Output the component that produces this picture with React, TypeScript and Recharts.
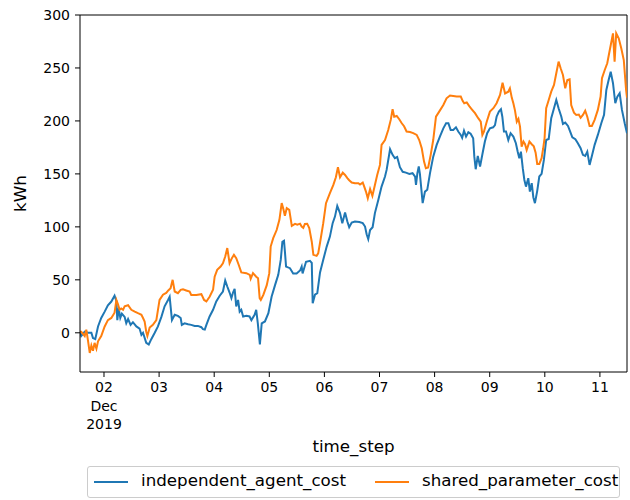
import React from 'react';
import { LineChart, Line, XAxis, YAxis, ReferenceLine } from 'recharts';

// time in hours relative to 2019-12-02 00:00, value in kWh
const independentAgentCost: [number, number][] = [
  [-10.45, 1], [-9.9, -3], [-8.4, 1], [-7.0, 0], [-5.5, 0], [-4.8, -5], [-3.8, -6], [-2.6, 6], [-1.2, 14],
  [0.3, 20], [1.7, 26], [3.2, 29.5], [4.6, 35], [5.4, 30], [5.8, 12], [6.4, 23], [7.1, 14], [7.8, 18],
  [9.0, 15], [9.7, 9], [10.5, 13], [11.6, 7.5], [12.6, 10], [14.1, 6], [15.5, 4], [16.3, -2], [17.0, 0],
  [18.4, -9.5], [19.5, -11], [20.6, -6], [22.1, 0], [23.5, 6], [25.0, 15], [26.4, 25], [27.9, 31],
  [28.6, 34], [29.6, 12], [30.8, 17], [32.2, 16], [33.4, 14], [33.9, 7.5], [35.1, 9], [36.6, 8],
  [38.0, 7.5], [39.5, 6.5], [40.9, 6.5], [42.4, 5.3], [43.1, 3.5], [43.9, 3], [44.6, 7.5], [46.0, 15.4],
  [47.5, 21.7], [48.9, 29.6], [50.4, 35], [51.8, 39], [52.8, 49.4], [53.7, 43.7], [54.7, 38], [55.5, 32.7],
  [56.2, 38], [56.9, 41.5], [57.6, 24.8], [58.4, 31], [59.1, 20], [59.8, 21.7], [60.6, 15.4], [62.0, 16],
  [63.4, 15.4], [64.2, 12], [65.6, 17], [66.3, 21.7], [67.0, 9], [67.9, -11], [68.7, 9], [70.1, 10.7],
  [71.6, 18.6], [73.0, 34], [74.5, 45], [75.9, 54.7], [77.0, 69], [77.7, 86], [78.4, 87], [78.8, 76.7],
  [79.3, 62.5], [81.0, 61], [82.4, 56], [83.9, 56], [85.4, 58.8], [86.1, 62.5], [86.5, 56], [88.0, 67],
  [89.7, 68], [90.5, 66], [90.9, 28], [91.9, 36], [92.9, 37.4], [94.1, 57], [95.5, 69], [97.0, 81.4],
  [98.4, 90.8], [99.6, 103.5], [100.6, 109.7], [101.6, 119.8], [102.8, 113], [103.8, 103.5], [105.0, 113.5],
  [106.0, 105], [106.8, 99.7], [107.9, 104], [109.3, 105], [111.2, 104.5], [112.7, 103.5], [113.7, 100.3],
  [114.4, 93], [115.1, 88.4], [115.9, 97], [117.0, 99.7], [118.0, 113], [119.5, 125.5], [120.9, 138],
  [122.4, 147.5], [123.1, 153.8], [124.6, 173.3], [125.7, 168], [126.7, 164.8], [127.7, 166], [128.9, 156.3],
  [130.1, 152], [131.5, 151.2], [133.0, 150], [134.4, 150.7], [135.5, 147.5], [135.9, 139.6], [136.5, 150.7],
  [137.1, 157], [137.6, 150], [138.8, 122.4], [139.8, 133.3], [140.8, 135], [142.0, 150.7], [143.4, 166.3],
  [144.9, 177.4], [146.3, 185.2], [147.8, 193], [149.0, 197.8], [150.0, 197.8], [151.0, 191.5],
  [152.1, 191.5], [153.3, 194], [154.3, 190], [155.4, 186.8], [156.0, 184], [156.8, 190.8], [157.7, 185.2],
  [158.7, 189.3], [159.7, 188], [160.8, 183.7], [161.3, 166.3], [161.9, 154.4], [162.8, 167], [163.8, 157],
  [164.9, 169.5], [165.9, 180.5], [166.9, 188.4], [168.1, 193], [169.5, 194], [170.3, 196], [171.0, 204],
  [172.0, 208.8], [172.9, 211], [173.5, 204], [174.2, 190], [175.1, 190], [176.1, 182], [177.1, 188.4],
  [178.3, 185.2], [179.4, 179], [180.2, 171], [180.9, 164.8], [181.6, 171], [182.4, 155.4], [183.1, 144.3],
  [183.8, 138], [184.8, 146], [185.5, 133.3], [186.3, 141.2], [187.0, 128], [187.7, 122.4], [188.7, 134],
  [189.6, 147.5], [190.6, 150], [191.6, 163.2], [192.6, 182], [193.7, 183], [194.8, 202.6], [196.0, 212],
  [197.0, 219.8], [198.0, 212], [199.2, 204], [199.9, 197.2], [200.9, 198.5], [202.1, 195.3], [203.3, 188.4],
  [204.0, 184.6], [205.3, 182.7], [206.4, 179], [207.6, 174.2], [208.6, 168], [209.6, 167], [210.5, 171],
  [211.5, 158.5], [212.5, 167], [213.7, 177.4], [215.1, 186.8], [216.6, 197.8], [217.8, 205.7],
  [218.8, 229.2], [219.8, 238.7], [220.7, 246.5], [221.7, 235.6], [222.7, 216.7], [223.6, 223],
  [224.6, 226.1], [225.6, 210.4], [226.8, 197.8], [227.8, 188.4],
];

const sharedParameterCost: [number, number][] = [
  [-10.45, 1], [-9.9, 1], [-8.4, -3], [-7.7, 3], [-7.0, -7], [-6.2, -19], [-5.5, -12], [-4.8, -17],
  [-4.1, -9.5], [-3.3, -15], [-2.6, -8], [-1.2, -3], [0.3, 6], [1.7, 12], [3.2, 14], [4.6, 19], [5.4, 31],
  [6.1, 27], [6.8, 21.7], [7.5, 23], [8.3, 21.7], [9.0, 25], [10.5, 26], [11.9, 21.7], [13.4, 20],
  [14.8, 18.5], [16.3, 17], [17.0, 14], [17.7, 10.7], [18.4, 1], [18.9, -3], [19.9, 5], [21.3, 7.5],
  [22.8, 12], [24.2, 31], [25.7, 36], [27.1, 37.7], [28.0, 40], [29.0, 42], [29.9, 50], [30.8, 39],
  [32.2, 37.4], [33.4, 40.6], [34.4, 41], [35.8, 40], [37.3, 39], [38.0, 35.8], [40.2, 35.8], [42.4, 36.5],
  [43.6, 31], [44.6, 29.6], [46.0, 34], [47.5, 40.6], [48.2, 53], [49.3, 59.4], [50.8, 62.5], [51.8, 65.7],
  [52.8, 72], [53.7, 80], [54.7, 65.7], [55.7, 70.5], [56.6, 73.6], [57.6, 70.5], [58.7, 64], [59.8, 57],
  [62.0, 56.3], [63.5, 54.7], [63.9, 51], [64.9, 56.3], [66.3, 53], [67.1, 51.6], [67.8, 32.7], [68.3, 31],
  [69.4, 35.8], [70.9, 45], [72.0, 56.3], [72.6, 81.4], [73.7, 89.3], [75.2, 97], [76.4, 106.6],
  [77.4, 122.4], [78.1, 117], [78.8, 110.4], [79.6, 117.6], [80.7, 116], [81.8, 101], [83.2, 102.8],
  [84.2, 102], [85.4, 103], [86.1, 100.3], [86.8, 99], [87.5, 102.8], [88.5, 103], [89.4, 98.8], [90.5, 86],
  [91.2, 73.6], [92.6, 72.6], [93.3, 75], [94.1, 85], [95.5, 103.5], [96.7, 122.4], [98.4, 131.8],
  [99.9, 139.6], [101.0, 146.9], [101.9, 156.3], [102.8, 146.9], [104.0, 151.2], [105.0, 149], [106.0, 146],
  [106.8, 144], [107.9, 141.8], [109.3, 141.2], [110.8, 141.2], [111.5, 140], [112.7, 141.8], [113.2, 139],
  [114.1, 133.3], [114.9, 127], [115.9, 135.6], [116.9, 129.2], [118.0, 139.6], [119.0, 149], [120.2, 158.5],
  [120.9, 177.4], [122.4, 182], [123.8, 191.5], [124.9, 201], [125.7, 211], [126.4, 204], [127.5, 204.7],
  [128.6, 201.6], [129.7, 197.8], [130.7, 195], [131.8, 190], [133.3, 189.5], [134.7, 188.5], [136.2, 186.8],
  [137.3, 182], [138.4, 174.2], [139.4, 161.6], [140.2, 155.4], [141.2, 156], [142.3, 168], [143.4, 182],
  [144.6, 204], [146.0, 208.8], [147.8, 215], [149.2, 221.4], [150.7, 224], [152.1, 223.5], [153.6, 223],
  [155.4, 223], [156.2, 219], [156.9, 216.7], [158.0, 217.5], [159.1, 214], [160.2, 211], [161.6, 207.3],
  [163.0, 202.6], [164.1, 199.3], [164.8, 186.8], [165.5, 190], [166.7, 199.3], [168.1, 208.8], [169.6, 212],
  [171.0, 216.7], [172.5, 224.5], [173.6, 236], [174.7, 226], [176.1, 227.6], [176.8, 230.8], [177.6, 222],
  [178.3, 216.7], [179.0, 210], [179.8, 199.3], [180.5, 202], [181.2, 194.6], [181.9, 175.8], [182.7, 180.5],
  [183.4, 178], [184.1, 172.6], [185.3, 180.5], [186.3, 178], [187.2, 176], [188.0, 170], [188.7, 159.4],
  [189.6, 159.4], [190.6, 164.8], [191.3, 174.2], [191.9, 183.7], [192.6, 212], [193.7, 219.8],
  [194.8, 227.6], [196.0, 234], [197.0, 245], [198.0, 256], [198.9, 249.7], [199.9, 243.4], [200.9, 230.8],
  [201.8, 238.7], [202.8, 239.3], [203.5, 215], [204.7, 207.8], [205.7, 205.7], [206.8, 206], [207.6, 203],
  [208.6, 205.7], [209.6, 209.7], [210.5, 204], [211.5, 195.3], [212.5, 195.3], [213.7, 201], [215.1, 210.4],
  [216.3, 223], [216.9, 240.3], [218.1, 248.1], [219.2, 254.4], [220.3, 267], [221.3, 278], [221.7, 282.7],
  [222.4, 256], [223.1, 282.7], [224.2, 278], [225.3, 268.6], [226.4, 257.5], [227.4, 229.2], [227.8, 222],
];

const xTicks = [0, 24, 48, 72, 96, 120, 144, 168, 192, 216];
const dayLabels = ['02', '03', '04', '05', '06', '07', '08', '09', '10', '11'];
const yTicks = [0, 50, 100, 150, 200, 250, 300];

const X_MIN = -10.45;
const X_MAX = 227.8;
const Y_MIN = -37;
const Y_MAX = 300;

const BLUE = '#1f77b4';
const ORANGE = '#ff7f0e';
const FONT = 'DejaVu Sans';
const LABEL_SIZE = 16.7;

const independentData = independentAgentCost.map(([t, v]) => ({ t, v }));
const sharedData = sharedParameterCost.map(([t, v]) => ({ t, v }));

const XTick = (props: any) => {
  const { x, y, payload } = props;
  const idx = xTicks.indexOf(payload.value);
  const label = idx >= 0 ? dayLabels[idx] : '';
  return (
    <g>
      <text x={x} y={y + 11} textAnchor="middle" fontFamily={FONT} fontSize={14} fill="#000">{label}</text>
      {idx === 0 && <text x={x} y={y + 30} textAnchor="middle" fontFamily={FONT} fontSize={14} fill="#000">Dec</text>}
      {idx === 0 && <text x={x} y={y + 48} textAnchor="middle" fontFamily={FONT} fontSize={14} fill="#000">2019</text>}
    </g>
  );
};

const LegendBox = () => (
  <div
    style={{
      position: 'absolute',
      left: 87,
      top: 466,
      boxSizing: 'border-box',
      width: 533,
      height: 32,
      border: '1px solid #cccccc',
      borderRadius: 3,
      background: '#fff',
      fontFamily: FONT,
      fontSize: LABEL_SIZE,
      color: '#000',
      whiteSpace: 'nowrap',
    }}
  >
    <span style={{ position: 'absolute', left: 6, top: 14, width: 34, height: 2, background: BLUE }} />
    <span style={{ position: 'absolute', left: 53, top: 3 }}>independent_agent_cost</span>
    <span style={{ position: 'absolute', left: 287, top: 14, width: 34, height: 2, background: ORANGE }} />
    <span style={{ position: 'absolute', left: 334, top: 3 }}>shared_parameter_cost</span>
  </div>
);

export default function App() {
  return (
    <div style={{ position: 'absolute', left: 0, top: 0, width: 630, height: 500, background: '#fff' }}>
      <LineChart width={630} height={500} margin={{ top: 15, right: 3, left: 0, bottom: 48 }}>
        <XAxis
          dataKey="t"
          type="number"
          domain={[X_MIN, X_MAX]}
          allowDataOverflow
          ticks={xTicks}
          interval={0}
          tick={<XTick />}
          tickSize={5}
          tickMargin={4}
          height={80}
          stroke="#000"
          tickLine={{ stroke: '#000' }}
          axisLine={{ stroke: '#000' }}
          label={{ value: 'time_step', position: 'insideBottom', offset: 0, fontFamily: FONT, fontSize: LABEL_SIZE, fill: '#000' }}
        />
        <YAxis
          type="number"
          domain={[Y_MIN, Y_MAX]}
          allowDataOverflow
          ticks={yTicks}
          interval={0}
          width={80}
          tickSize={5}
          tickMargin={5}
          stroke="#000"
          tick={{ fontFamily: FONT, fontSize: 14, fill: '#000' }}
          label={{ value: 'kWh', angle: -90, position: 'insideLeft', offset: 20, fontFamily: FONT, fontSize: LABEL_SIZE, fill: '#000', style: { textAnchor: 'middle' } }}
        />
        <ReferenceLine y={Y_MAX} stroke="#000" strokeWidth={1} />
        <ReferenceLine x={X_MAX} stroke="#000" strokeWidth={1} />
        <Line data={independentData} dataKey="v" name="independent_agent_cost" stroke={BLUE} strokeWidth={2} dot={false} isAnimationActive={false} />
        <Line data={sharedData} dataKey="v" name="shared_parameter_cost" stroke={ORANGE} strokeWidth={2} dot={false} isAnimationActive={false} />
      </LineChart>
      <LegendBox />
    </div>
  );
}
